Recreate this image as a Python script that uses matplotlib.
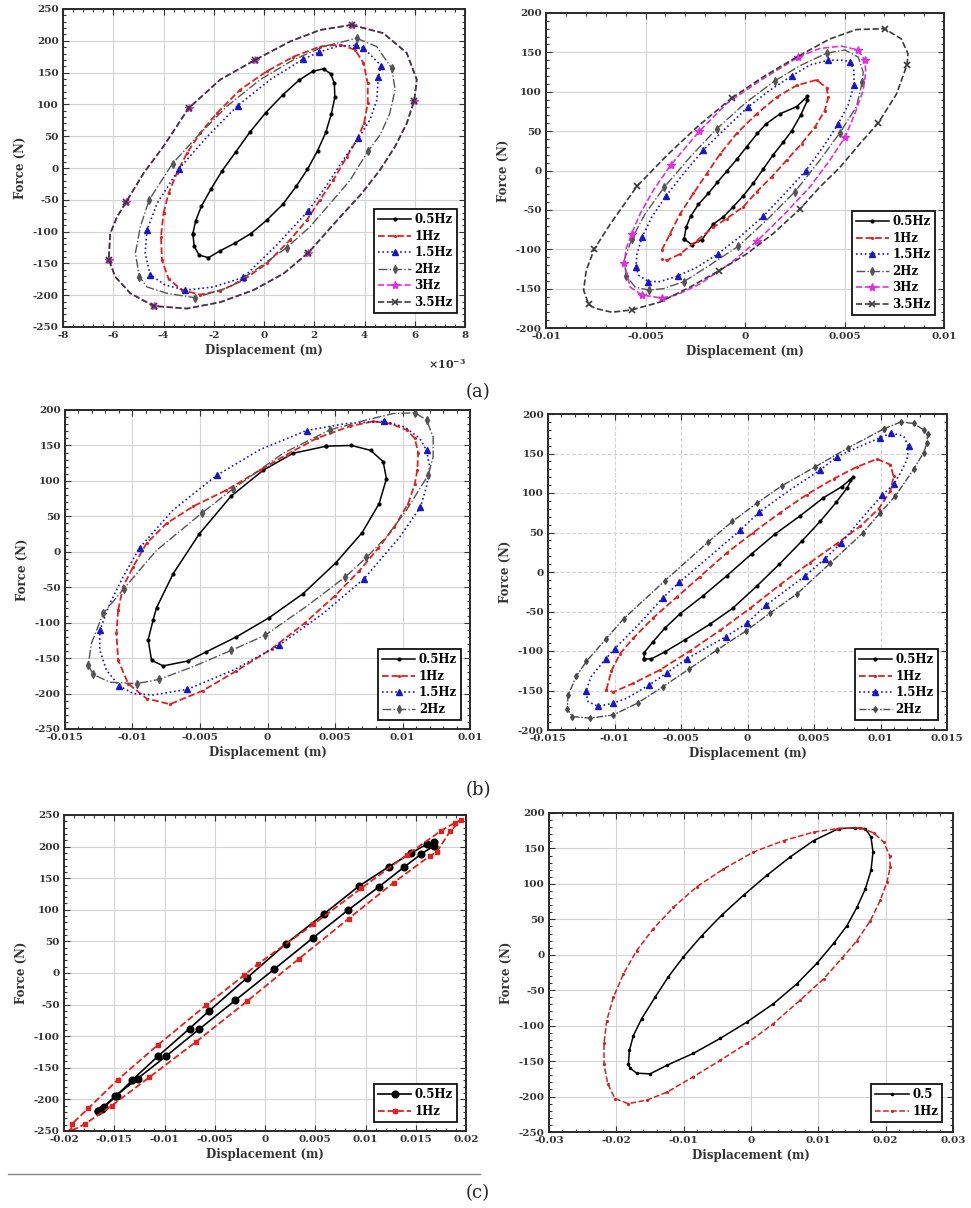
import numpy as np
import matplotlib
matplotlib.use('Agg')
import matplotlib.pyplot as plt
from matplotlib.ticker import AutoMinorLocator
from matplotlib.lines import Line2D

plt.rcParams['font.family'] = ['DejaVu Serif']
plt.rcParams['font.weight'] = 'bold'
plt.rcParams['axes.unicode_minus'] = False
plt.rcParams['mathtext.fontset'] = 'dejavuserif'

# ---------------- data (displacement in mm, force in N) ----------------
# Panel (a) left
aL_05_x = [-2.83,-2.72,-2.49,-2.11,-1.66,-1.13,-0.55,0.07,0.75,1.39,1.94,2.37,2.66,2.80,2.82,2.68,2.46,2.13,1.73,1.28,0.75,0.11,-0.52,-1.15,-1.74,-2.21,-2.58,-2.78,-2.83]
aL_05_F = [-103,-83,-60,-33,-4,25,57,87,115,138,152,156,148,133,111,85,56,27,-2,-29,-57,-82,-103,-118,-130,-141,-137,-123,-103]
aL_1_x = [-4.0,-3.8,-3.47,-3.07,-2.54,-1.88,-0.95,0.11,1.17,2.23,3.03,3.62,3.96,4.13,4.13,3.98,3.69,3.3,2.76,2.23,1.7,1.04,0.11,-0.81,-1.74,-2.54,-3.27,-3.8,-4.06,-4.1,-4.0]
aL_1_F = [-71,-40,-8,23,55,86,123,152,175,191,194,186,165,133,102,70,44,18,-19,-50,-82,-113,-150,-176,-193,-199,-192,-174,-145,-108,-71]
aL_15_x = [2.17,2.9,3.67,3.96,4.66,4.55,4.49,4.22,3.76,3.16,2.5,1.77,0.51,-0.82,-2.01,-3.13,-3.93,-4.53,-4.73,-4.66,-4.26,-3.38,-2.27,-1.05,0.25,1.55,2.17]
aL_15_F = [182,191,193,189,161,143,107,76,47,13,-27,-67,-121,-172,-187,-192,-184,-168,-134,-98,-56,-1,49,98,139,171,182]
aL_15_mk = [0,2,3,4,5,8,11,13,15,17,19,21,23,25]
aL_2_x = [3.69,4.48,5.08,5.22,5.0,4.62,4.13,3.43,2.63,1.84,0.91,-0.15,-1.35,-2.74,-3.87,-4.66,-4.96,-5.12,-4.92,-4.57,-3.64,-2.67,-1.48,-0.15,1.17,2.37,3.69]
aL_2_F = [204,191,157,123,85,52,26,-19,-56,-92,-125,-155,-187,-204,-197,-187,-171,-134,-92,-50,7,49,97,139,170,191,204]
aL_2_mk = [0,2,6,10,13,16,19,20]
aL_35_x = [3.49,4.75,5.68,6.08,5.98,5.68,5.22,4.62,3.89,3.03,1.77,0.78,-0.42,-1.74,-3.07,-4.39,-5.32,-5.92,-6.18,-6.12,-5.85,-5.48,-4.79,-4.0,-3.0,-1.74,-0.35,1.04,2.23,3.49]
aL_35_F = [225,212,181,139,106,70,34,-3,-40,-77,-133,-166,-192,-211,-221,-217,-197,-171,-144,-103,-77,-53,-8,34,94,139,170,199,217,225]
aL_35_mk = [0,4,10,15,18,21,24,26]
aL_3_x = aL_35_x
aL_3_F = aL_35_F
aL_3_mk = aL_35_mk

# Panel (a) right
aR_05_x = [-3.06,-2.96,-2.73,-2.34,-1.84,-1.39,-0.92,-0.42,0.08,0.62,1.05,1.76,2.59,3.13,3.14,2.79,2.34,1.92,1.42,0.92,0.42,-0.08,-0.59,-1.09,-1.59,-2.17,-2.68,-3.06]
aR_05_F = [-87,-72,-58,-43,-29,-15,-1,14,30,47,59,72,81,94,89,70,50,36,20,2,-16,-32,-46,-59,-68,-88,-94,-87]
aR_1_x = [-4.18,-3.76,-3.26,-2.59,-1.92,-1.25,-0.42,0.59,1.59,2.59,3.6,4.1,4.18,4.01,3.51,2.84,2.09,1.34,0.59,-0.08,-0.92,-1.59,-2.42,-3.26,-3.93,-4.18]
aR_1_F = [-101,-80,-55,-29,-4,21,47,72,93,108,115,105,93,76,55,34,13,-8,-27,-46,-61,-72,-89,-106,-114,-112]
aR_15_x = [2.34,3.26,4.18,4.93,5.27,5.47,5.48,5.18,4.68,3.93,3.06,2.01,0.92,-0.25,-1.37,-2.42,-3.39,-4.26,-4.85,-5.35,-5.48,-5.43,-5.18,-4.68,-3.96,-3.09,-2.09,-1.0,0.17,1.25,2.34]
aR_15_F = [120,134,140,140,138,127,108,83,59,30,0,-29,-58,-84,-106,-123,-134,-141,-141,-133,-123,-106,-85,-59,-32,-4,26,53,81,102,120]
aR_15_mk = [0,2,4,6,8,10,12,14,16,18,20,22,24,26,28]
aR_2_x = [1.51,2.76,4.1,5.02,5.69,5.94,5.89,5.6,4.77,3.76,2.51,1.17,-0.33,-1.76,-3.06,-4.1,-4.82,-5.52,-5.97,-6.07,-5.69,-5.02,-4.05,-2.76,-1.42,0.08,1.51]
aR_2_F = [114,133,149,153,144,125,112,81,48,13,-27,-61,-96,-120,-141,-150,-152,-148,-134,-114,-87,-55,-21,17,53,87,114]
aR_2_mk = [0,2,6,8,10,12,14,16,18,20,22,24]
aR_3_x = [2.68,3.76,4.85,5.69,6.02,6.07,5.94,5.52,5.02,4.26,3.26,1.92,0.59,-0.75,-2.26,-3.43,-4.18,-5.18,-5.77,-6.07,-5.97,-5.69,-5.27,-4.6,-3.73,-2.29,-0.92,0.75,2.68]
aR_3_F = [144,155,158,153,140,125,102,72,42,13,-21,-57,-90,-118,-144,-158,-162,-158,-148,-118,-99,-80,-55,-25,7,50,85,114,144]
aR_3_mk = [0,3,4,8,12,16,17,19,21,24,25]
aR_35_x = [-0.67,0.92,2.59,4.26,5.6,7.02,7.86,8.19,8.14,7.61,6.69,5.77,4.77,3.76,2.76,1.42,0.08,-1.29,-2.76,-4.26,-5.69,-6.69,-7.53,-7.86,-8.11,-7.98,-7.58,-6.77,-5.43,-3.93,-2.42,-0.67]
aR_35_F = [92,119,144,167,179,180,167,148,134,97,60,34,4,-21,-49,-80,-106,-127,-148,-167,-177,-180,-175,-170,-152,-127,-100,-68,-20,19,55,92]
aR_35_mk = [0,5,8,10,14,17,20,23,26,28]

# Panel (b) left
bL_05_x = [4.37,6.22,7.65,8.57,8.81,8.27,7.01,5.04,2.64,0.12,-2.3,-4.52,-5.88,-7.73,-8.59,-8.84,-8.47,-8.22,-6.99,-5.06,-2.72,-0.32,1.9,4.37]
bL_05_F = [149,150,143,127,103,68,27,-16,-59,-93,-120,-141,-154,-161,-153,-124,-96,-79,-31,25,78,115,139,149]
bL_1_x = [-11.06,-10.69,-9.95,-8.96,-7.48,-5.51,-3.04,-0.57,1.41,3.63,6.1,7.83,9.06,10.3,10.91,11.16,11.1,10.9,10.42,9.4,8.2,6.8,5.0,2.8,0.3,-2.3,-4.8,-7.23,-8.96,-10.32,-11.06,-11.19,-11.06]
bL_1_F = [-82,-49,-21,12,40,64,87,115,137,160,177,184,181,172,160,140,115,95,68,35,5,-27,-62,-100,-137,-168,-196,-215,-207,-186,-153,-115,-82]
bL_15_x = [2.89,5.85,8.64,10.17,11.28,11.78,12.02,11.78,11.33,9.8,7.16,4.12,0.84,-2.54,-5.93,-8.47,-9.95,-10.99,-11.93,-12.42,-12.42,-11.68,-10.69,-9.46,-6.99,-3.75,-0.57,2.89]
bL_15_F = [171,181,184,176,160,143,120,92,63,21,-38,-87,-132,-167,-194,-202,-200,-189,-167,-139,-111,-73,-35,6,59,108,144,171]
bL_15_mk = [0,2,5,8,10,12,14,17,20,23,25]
bL_2_x = [4.62,7.33,9.31,10.91,11.78,12.27,12.27,11.9,10.3,8.81,7.33,5.73,2.89,-0.2,-2.67,-5.51,-8.02,-9.7,-11.68,-12.91,-13.28,-13.04,-12.17,-10.64,-8.22,-4.84,-2.54,1.16,4.62]
bL_2_F = [172,186,195,196,186,162,134,108,59,21,-8,-36,-77,-118,-139,-162,-180,-186,-184,-173,-160,-129,-87,-52,2,55,89,139,172]
bL_2_mk = [0,3,4,7,10,11,13,14,16,17,19,20,22,23,25,26]

# Panel (b) right
bR_05_x = [-7.77,-7.77,-7.09,-6.21,-5.08,-3.33,-1.57,0.31,2.07,3.95,5.71,7.09,7.72,7.92,7.47,6.66,5.46,4.08,2.4,0.69,-1.12,-2.82,-4.71,-6.21,-7.22,-7.77]
bR_05_F = [-110,-102,-88,-71,-53,-30,-5,23,48,71,94,108,117,120,106,88,64,39,10,-18,-46,-66,-86,-101,-110,-110]
bR_1_x = [-10.61,-10.23,-9.6,-8.6,-7.09,-5.33,-3.58,-1.57,0.44,2.45,4.46,6.47,8.22,9.73,10.73,10.99,10.73,9.86,8.48,6.72,4.71,2.45,0.19,-2.07,-4.33,-6.59,-8.6,-10.1,-10.61]
bR_1_F = [-149,-125,-104,-84,-58,-32,-6,24,50,75,98,118,133,143,136,121,102,80,58,36,12,-16,-46,-74,-100,-124,-141,-152,-149]
bR_15_x = [10.8,11.74,12.11,11.99,11.49,10.99,10.11,8.6,7.05,5.84,4.33,1.4,-0.06,-1.64,-4.58,-6.09,-7.39,-9.1,-10.1,-11.24,-11.99,-12.17,-11.74,-10.66,-9.98,-8.1,-6.39,-5.13,-2.82,-0.54,0.89,3.2,5.46,6.72,8.72,9.98,10.8]
bR_15_F = [176,172,159,142,125,111,97,68,37,17,-5,-42,-65,-82,-110,-128,-143,-160,-166,-170,-164,-151,-132,-110,-97,-65,-33,-13,20,53,76,104,129,146,161,170,176]
bR_15_mk = [0,2,5,6,8,9,10,11,12,13,14,15,16,18,19,21,23,24,26,27,29,30,32,33,35]
bR_2_x = [10.23,11.54,12.49,13.24,13.55,13.49,13.24,12.49,11.11,9.98,8.65,6.21,3.7,1.69,-0.14,-2.32,-4.41,-6.34,-8.27,-10.1,-11.86,-13.17,-13.56,-13.49,-12.87,-12.11,-10.66,-9.3,-6.21,-2.95,-1.14,0.69,2.57,5.08,7.55,10.23]
bR_2_F = [181,190,188,180,175,163,151,130,96,75,49,11,-28,-52,-75,-99,-123,-145,-166,-181,-185,-183,-173,-156,-132,-113,-85,-59,-11,38,64,87,109,133,157,181]

# Panel (c) left
cL_05_x = [-16.58,-16.01,-14.75,-13.19,-10.67,-7.51,-5.56,-1.81,2.07,5.83,9.31,12.3,14.57,16.12,16.79,16.79,15.52,13.79,11.3,8.22,4.73,0.91,-2.94,-6.56,-9.88,-12.67,-14.92,-16.25,-16.58]
cL_05_F = [-218,-212,-194,-169,-132,-88,-60,-8,46,93,137,168,190,204,207,201,188,167,136,99,55,6,-43,-89,-132,-167,-195,-215,-218]
cL_1_x = [-19.3,-19.23,-17.57,-14.66,-10.67,-5.86,-2.04,-0.65,4.82,9.58,14.13,17.52,18.93,19.52,18.45,17.11,16.39,12.8,8.32,3.34,-1.81,-6.87,-11.51,-15.26,-17.91,-19.3]
cL_1_F = [-250,-239,-214,-169,-114,-51,-3,15,77,134,187,225,238,242,225,192,185,143,86,22,-45,-109,-165,-210,-239,-250]

# Panel (c) right
cR_05_x = [-18.2,-18.06,-17.47,-16.23,-14.25,-12.27,-10.04,-7.31,-4.34,-1.11,2.35,5.82,9.29,13.01,15.49,16.98,17.82,18.12,17.82,16.98,15.74,14.25,12.27,9.79,6.81,3.34,-0.62,-4.58,-8.55,-12.51,-14.99,-16.97,-17.96,-18.2]
cR_05_F = [-154,-135,-114,-90,-60,-31,-3,27,56,84,112,138,161,178,179,178,166,145,119,93,67,41,16,-12,-41,-69,-95,-118,-139,-156,-168,-167,-160,-154]
cR_1_x = [16.23,18.21,19.7,20.59,20.69,20.2,19.21,17.72,15.74,13.51,10.78,7.31,3.34,-0.62,-4.58,-8.55,-12.51,-15.49,-18.21,-20.19,-21.28,-21.83,-21.83,-21.43,-20.44,-18.95,-16.97,-14.49,-11.51,-8.05,-4.09,0.37,4.83,9.29,12.76,16.23]
cR_1_F = [179,172,159,140,124,103,77,48,20,-5,-34,-64,-97,-125,-149,-172,-194,-205,-210,-203,-182,-154,-125,-93,-60,-27,6,37,67,96,121,145,161,173,178,179]

# Tick values and labels
aL_xt = [-8,-6,-4,-2,0,2,4,6,8]
aL_yt = [-250,-200,-150,-100,-50,0,50,100,150,200,250]
aR_xt = [-0.01,-0.005,0,0.005,0.01]
aR_xl = ['-0.01','-0.005','0','0.005','0.01']
aR_yt = [-200,-150,-100,-50,0,50,100,150,200]
bL_xt = [-0.015,-0.01,-0.005,0,0.005,0.01,0.015]
bL_xl = ['-0.015','-0.01','-0.005','0','0.005','0.01','0.01']
bL_yt = [-250,-200,-150,-100,-50,0,50,100,150,200]
bR_xt = [-0.015,-0.01,-0.005,0,0.005,0.01,0.015]
bR_xl = ['-0.015','-0.01','-0.005','0','0.005','0.01','0.015']
bR_yt = [-200,-150,-100,-50,0,50,100,150,200]
cL_xt = [-0.02,-0.015,-0.01,-0.005,0,0.005,0.01,0.015,0.02]
cL_xl = ['-0.02','-0.015','-0.01','-0.005','0','0.005','0.01','0.015','0.02']
cL_yt = [-250,-200,-150,-100,-50,0,50,100,150,200,250]
cR_xt = [-0.03,-0.02,-0.01,0,0.01,0.02,0.03]
cR_xl = ['-0.03','-0.02','-0.01','0','0.01','0.02','0.03']
cR_yt = [-250,-200,-150,-100,-50,0,50,100,150,200]

# ---------------- styles ----------------
STY = {
    '0.5Hz': dict(color='black', ls='-', marker='.', ms=4, lw=1.1),
    '1Hz': dict(color='#e3201c', ls='--', marker='.', ms=2.5, lw=1.3),
    '1.5Hz': dict(color='#1717c8', ls=':', marker='^', ms=4.2, lw=1.2),
    '2Hz': dict(color='#555555', ls='-.', marker='d', ms=3.6, lw=1.0),
    '3Hz': dict(color='#e030e0', ls='--', marker='*', ms=6, lw=1.2),
    '3.5Hz': dict(color='#3a3a3a', ls='--', marker='x', ms=5, lw=1.2, mew=1.2),
}

W, H = 971, 1208
fig = plt.figure(figsize=(W/100, H/100), dpi=100)

def box(x0, y0, x1, y1):
    return [x0/W, 1 - y1/H, (x1-x0)/W, (y1-y0)/H]

axA1 = fig.add_axes(box(63, 9, 465, 327))
axA2 = fig.add_axes(box(546, 13, 944, 328))
axB1 = fig.add_axes(box(65, 410, 470, 729))
axB2 = fig.add_axes(box(548, 414, 947, 730))
axC1 = fig.add_axes(box(64, 815, 466, 1131))
axC2 = fig.add_axes(box(549, 813, 953, 1132))

def setup(ax, xt, xl, yt, gridls='-'):
    ax.set_xlim(xt[0], xt[-1])
    ax.set_ylim(yt[0], yt[-1])
    ax.set_xticks(xt)
    ax.set_xticklabels(xl)
    ax.set_yticks(yt)
    ax.set_yticklabels([str(v) for v in yt])
    ax.xaxis.set_minor_locator(AutoMinorLocator(5))
    ax.yaxis.set_minor_locator(AutoMinorLocator(5))
    ax.tick_params(which='both', direction='in', top=True, right=True,
                   labelsize=7.5, color='#333333', labelcolor='#333333', width=0.8, pad=3)
    ax.tick_params(which='major', length=4)
    ax.tick_params(which='minor', length=2)
    ax.grid(True, which='major', color='#d3d3d3', lw=0.8, ls=gridls)
    ax.set_axisbelow(True)
    for s in ax.spines.values():
        s.set_linewidth(1.4)
        s.set_color('#2a2a2a')
    ax.set_xlabel('Displacement (m)', fontsize=8.5, fontweight='bold', color='#333333', labelpad=3)
    ax.set_ylabel('Force (N)', fontsize=8.5, fontweight='bold', color='#333333', labelpad=4)

def draw(ax, series, scale):
    for label, xs, fs, mk, extra in series:
        st = dict(STY[label])
        st.update(extra)
        ax.plot(np.asarray(xs) * scale, fs, label=label, markevery=mk, **st)

def legend(ax, anchor, labels=None):
    h, l = ax.get_legend_handles_labels()
    if labels is not None:
        l = labels
    leg = ax.legend(h, l, loc='lower right', bbox_to_anchor=anchor, fontsize=8.5, frameon=True,
                    fancybox=False, edgecolor='#111111', framealpha=1, handlelength=2.8,
                    handletextpad=0.3, labelspacing=0.3, borderpad=0.35, borderaxespad=0.0,
                    numpoints=1)
    leg.get_frame().set_linewidth(1.3)
    for t in leg.get_texts():
        t.set_fontweight('bold')

# (a) left  -- x axis in units of 1e-3 m
setup(axA1, aL_xt, [str(v) for v in aL_xt], aL_yt)
draw(axA1, [('0.5Hz', aL_05_x, aL_05_F, None, {}),
            ('1Hz', aL_1_x, aL_1_F, None, {}),
            ('1.5Hz', aL_15_x, aL_15_F, aL_15_mk, {}),
            ('2Hz', aL_2_x, aL_2_F, aL_2_mk, {}),
            ('3Hz', aL_3_x, aL_3_F, aL_3_mk, {}),
            ('3.5Hz', aL_35_x, aL_35_F, aL_35_mk, {})], 1.0)
legend(axA1, (0.980, 0.044))
axA1.text(0.955, -0.116, r'$\times10^{-3}$', transform=axA1.transAxes, ha='center', va='center',
          fontsize=8, color='#333333')

# (a) right
setup(axA2, aR_xt, aR_xl, aR_yt)
draw(axA2, [('0.5Hz', aR_05_x, aR_05_F, None, {}),
            ('1Hz', aR_1_x, aR_1_F, None, {}),
            ('1.5Hz', aR_15_x, aR_15_F, aR_15_mk, {}),
            ('2Hz', aR_2_x, aR_2_F, aR_2_mk, {}),
            ('3Hz', aR_3_x, aR_3_F, aR_3_mk, {}),
            ('3.5Hz', aR_35_x, aR_35_F, aR_35_mk, {})], 1e-3)
legend(axA2, (0.977, 0.041))

# (b) left
setup(axB1, bL_xt, bL_xl, bL_yt)
draw(axB1, [('0.5Hz', bL_05_x, bL_05_F, None, {}),
            ('1Hz', bL_1_x, bL_1_F, None, {}),
            ('1.5Hz', bL_15_x, bL_15_F, bL_15_mk, {}),
            ('2Hz', bL_2_x, bL_2_F, bL_2_mk, {})], 1e-3)
legend(axB1, (0.978, 0.028))

# (b) right
setup(axB2, bR_xt, bR_xl, bR_yt, gridls='--')
draw(axB2, [('0.5Hz', bR_05_x, bR_05_F, None, {}),
            ('1Hz', bR_1_x, bR_1_F, None, {}),
            ('1.5Hz', bR_15_x, bR_15_F, bR_15_mk, {}),
            ('2Hz', bR_2_x, bR_2_F, None, {'ms': 3, 'color': '#4a4a4a',
                                           'dashes': (5, 1.2, 1.2, 1.2)})], 1e-3)
legend(axB2, (0.977, 0.032))

# (c) left
setup(axC1, cL_xt, cL_xl, cL_yt)
draw(axC1, [('0.5Hz', cL_05_x, cL_05_F, None, {'marker': 'o', 'ms': 4.8, 'lw': 1.2}),
            ('1Hz', cL_1_x, cL_1_F, None, {'marker': 's', 'ms': 3.5, 'lw': 1.3})], 1e-3)
legend(axC1, (0.978, 0.028))

# (c) right
setup(axC2, cR_xt, cR_xl, cR_yt)
draw(axC2, [('0.5Hz', cR_05_x, cR_05_F, None, {'ms': 3}),
            ('1Hz', cR_1_x, cR_1_F, None, {'ms': 2.5, 'color': '#d42020', 'lw': 1.1})], 1e-3)
legend(axC2, (0.973, 0.031), labels=['0.5', '1Hz'])

# panel labels
fig.text(478/W, 1 - 392/H, '(a)', ha='center', va='center', fontsize=13, fontweight='normal', color='#222222')
fig.text(478/W, 1 - 790/H, '(b)', ha='center', va='center', fontsize=13, fontweight='normal', color='#222222')
fig.text(478/W, 1 - 1193/H, '(c)', ha='center', va='center', fontsize=13, fontweight='normal', color='#222222')
fig.add_artist(Line2D([8/W, 480/W], [1 - 1174/H, 1 - 1174/H], transform=fig.transFigure,
                      color='#888888', lw=1.0))

fig.savefig('out.png', dpi=100, facecolor='white')
